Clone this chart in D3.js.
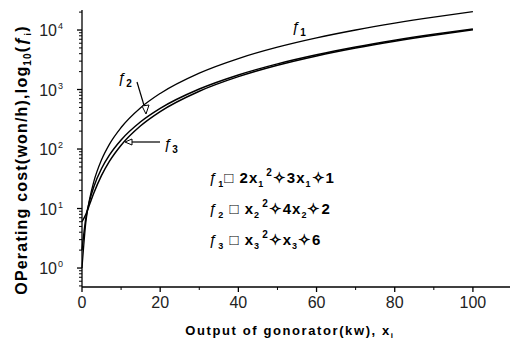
<!DOCTYPE html>
<html>
<head>
<meta charset="utf-8">
<script src="https://cdn.jsdelivr.net/npm/d3@7"></script>
<style>
  body { margin: 0; background: #fff; }
  svg { display: block; font-family: Arial, "Liberation Sans", sans-serif; }
</style>
</head>
<body>
<svg id="chart" width="510" height="346"></svg>
<script>
// values
const xs = [0, 1, 2, 3, 5, 7, 10, 15, 20, 30, 40, 50, 60, 70, 80, 90, 100];
const f1 = [1, 6, 15, 28, 66, 120, 230, 495, 860, 1890, 3320, 5150, 7380, 10010, 13040, 16470, 20300];
const f2 = [2, 7, 14, 23, 47, 79, 142, 287, 482, 1020, 1760, 2700, 3840, 5180, 6720, 8460, 10400];
const f3 = [6, 8, 12, 18, 36, 62, 116, 246, 426, 936, 1646, 2556, 3666, 4976, 6486, 8196, 10106];
const xTicks = [0, 20, 40, 60, 80, 100];
const yTicks = [1, 10, 100, 1000, 10000];
const equations = [
  ["ƒ", "1", "□ 2x", "1", "2", "✧3x", "1", "✧1"],
  ["ƒ", "2", " □  x", "2", "2", "✧4x", "2", "✧2"],
  ["ƒ", "3", " □  x", "3", "2", "✧x", "3", "✧6"]
];

const svg = d3.select("#chart");
const x = d3.scaleLinear().domain([0, 110]).range([82, 512]);
const y = d3.scaleLog().domain([0.48, 21700]).range([287, 10]);

// y axis with minor ticks
const minorY = [];
for (let e = -1; e <= 4; e++) {
  for (let m = 2; m <= 9; m++) {
    const v = m * Math.pow(10, e);
    if (v >= 0.48 && v <= 21700) minorY.push(v);
  }
}
const yAxis = svg.append("g").attr("transform", `translate(${x(0)},0)`);
yAxis.append("line").attr("x1", 0).attr("x2", 0).attr("y1", 10).attr("y2", 287)
  .attr("stroke", "#000").attr("stroke-width", 1.3);
yAxis.selectAll(".ymin").data(minorY).join("line")
  .attr("x1", -3).attr("x2", 0).attr("y1", d => y(d)).attr("y2", d => y(d))
  .attr("stroke", "#000").attr("stroke-width", 1);
yAxis.selectAll(".ymaj").data(yTicks).join("line")
  .attr("x1", -5).attr("x2", 0).attr("y1", d => y(d)).attr("y2", d => y(d))
  .attr("stroke", "#000").attr("stroke-width", 1.3);
const yl = yAxis.selectAll(".ylab").data(yTicks).join("text")
  .attr("x", -19).attr("y", d => y(d) + 6)
  .attr("text-anchor", "end").attr("font-size", 16).attr("fill", "#222");
yl.append("tspan").text("10");
yl.append("tspan").attr("dx", 1).attr("dy", -7).attr("font-size", 9)
  .text(d => Math.round(Math.log10(d)));

// x axis
const xAxis = svg.append("g").attr("transform", `translate(0,${y(0.48)})`);
xAxis.append("line").attr("x1", x(0)).attr("x2", 510).attr("y1", 0).attr("y2", 0)
  .attr("stroke", "#000").attr("stroke-width", 1.6);
xAxis.selectAll(".xmin").data([10, 30, 50, 70, 90]).join("line")
  .attr("x1", d => x(d)).attr("x2", d => x(d)).attr("y1", 0).attr("y2", 3)
  .attr("stroke", "#000");
xAxis.selectAll(".xmaj").data(xTicks).join("line")
  .attr("x1", d => x(d)).attr("x2", d => x(d)).attr("y1", 0).attr("y2", 5)
  .attr("stroke", "#000").attr("stroke-width", 1.3);
xAxis.selectAll(".xlab").data(xTicks).join("text")
  .attr("x", d => x(d)).attr("y", 21)
  .attr("text-anchor", "middle").attr("font-size", 16).attr("fill", "#222")
  .text(d => d);

// curves
const line = d3.line()
  .x((d, i) => x(xs[i]))
  .y(d => y(d))
  .curve(d3.curveMonotoneX);
[f1, f2, f3].forEach((s, k) => {
  svg.append("path").datum(s)
    .attr("fill", "none").attr("stroke", "#000")
    .attr("stroke-width", k === 0 ? 1.3 : 1.5)
    .attr("d", line);
});

// curve labels
function fLabel(px, py, sub) {
  const t = svg.append("text").attr("x", px).attr("y", py)
    .attr("font-size", 15).attr("fill", "#000");
  t.append("tspan").text("ƒ");
  t.append("tspan").attr("dy", 4).attr("font-size", 10).attr("font-weight", "bold").text(sub);
}
fLabel(292, 32, "1");
fLabel(118, 83, "2");
fLabel(164, 149, "3");

// arrows for f2, f3
svg.append("line").attr("x1", 137).attr("y1", 82).attr("x2", 146).attr("y2", 112)
  .attr("stroke", "#000").attr("stroke-width", 1.2);
svg.append("path").attr("d", "M146,114 L142,106 L149,105 Z")
  .attr("fill", "#fff").attr("stroke", "#000").attr("stroke-width", 1);
svg.append("line").attr("x1", 160).attr("y1", 142).attr("x2", 131).attr("y2", 142)
  .attr("stroke", "#000").attr("stroke-width", 1.2);
svg.append("path").attr("d", "M125,142 L132,139 L132,145 Z")
  .attr("fill", "#fff").attr("stroke", "#000").attr("stroke-width", 1);

// equations
equations.forEach((eq, i) => {
  const t = svg.append("text").attr("x", 209).attr("y", 183 + i * 31)
    .attr("font-size", 15).attr("font-weight", "bold").attr("letter-spacing", 1)
    .attr("fill", "#000");
  t.append("tspan").attr("font-weight", "normal").text(eq[0]);
  t.append("tspan").attr("dy", 4).attr("font-size", 9).text(eq[1]);
  t.append("tspan").attr("dy", -4).text(eq[2]);
  t.append("tspan").attr("dy", 4).attr("font-size", 9).text(eq[3]);
  t.append("tspan").attr("dy", -11).attr("dx", 2).attr("font-size", 10).text(eq[4]);
  t.append("tspan").attr("dy", 7).text(eq[5]);
  t.append("tspan").attr("dy", 4).attr("font-size", 9).text(eq[6]);
  t.append("tspan").attr("dy", -4).text(eq[7]);
});

// axis titles
const yt = svg.append("text")
  .attr("transform", "translate(27,160) rotate(-90)")
  .attr("text-anchor", "middle").attr("font-size", 16).attr("font-weight", "bold")
  .attr("letter-spacing", 1.2).attr("fill", "#000");
yt.append("tspan").text("OPerating cost(won/h),log");
yt.append("tspan").attr("dy", 4).attr("font-size", 10).text("10");
yt.append("tspan").attr("dy", -4).text("(ƒ");
yt.append("tspan").attr("dy", 4).attr("font-size", 9).text("i");
yt.append("tspan").attr("dy", -4).text(")");

const xt = svg.append("text").attr("x", 290).attr("y", 335)
  .attr("text-anchor", "middle").attr("font-size", 13).attr("font-weight", "bold")
  .attr("letter-spacing", 1.6).attr("fill", "#000");
xt.append("tspan").text("Output of gonorator(kw), x");
xt.append("tspan").attr("dy", 3).attr("font-size", 8).text("i");
</script>
</body>
</html>
